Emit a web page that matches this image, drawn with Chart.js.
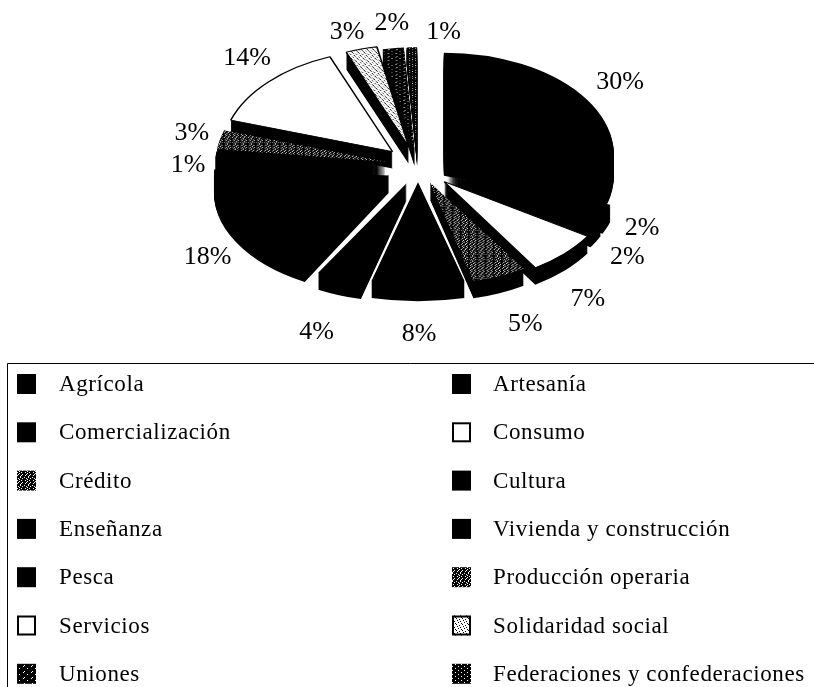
<!DOCTYPE html>
<html><head><meta charset="utf-8">
<style>html,body{margin:0;padding:0;background:#fff}canvas{display:block}</style>
<script src="https://cdn.jsdelivr.net/npm/chart.js@4"></script>
</head><body>
<div style="position:relative;width:814px;height:687px"><canvas id="c" width="814" height="687"></canvas></div>
<script>
const categories = ["Agrícola","Artesanía","Comercialización","Consumo","Crédito","Cultura","Enseñanza","Vivienda y construcción","Pesca","Producción operaria","Servicios","Solidaridad social","Uniones","Federaciones y confederaciones"];
const shares = [30,2,2,7,5,8,4,18,1,3,14,3,2,1];
const fills = ["black","black","black","white","mid","black","black","black","black","mid","white","light","dark","dark2"];

const SQUISH = 0.6, RADIUS = 170;
const explode = [32,33,33,37,30,27,31,33,33,33,35,33,28,28];
const stretch = [1,1,1,1,1.03,1.1,1.08,1.03,1,1,1,1,1,1];
const depths  = [21,17,17,17,17,17,17,17,17,17,17,17,17,17];
const labelNudges = [[8,3],[1,-2],[-1,7],[0,9],[12,-2],[1,-7],[-13,3],[0,7],[9,13],[8,-1],[4,-7],[-4,8],[4,4],[33,14]];

function tile(rows){
  const cv=document.createElement('canvas');cv.width=rows[0].length;cv.height=rows.length;
  const x=cv.getContext('2d');x.fillStyle='#fff';x.fillRect(0,0,cv.width,cv.height);x.fillStyle='#000';
  rows.forEach((r,j)=>[...r].forEach((c,i)=>{if(c==='#')x.fillRect(i,j,1,1);}));
  return x.createPattern(cv,'repeat');
}
const paints={
  black:'#000',white:'#fff',
  mid:tile(["#.###.##","###.####","##.###.#","#.###.##","####.###",".###.###","##.###.#","###.####"]),
  light:tile(["#.....","...#..",".#....","....#.","..#...",".....#"]),
  dark:tile(["#######.","########","###.####","########","########",".#######"]),
  dark2:tile(["#####.","######","##.###","######"])
};
const backgrounds=fills.map(f=>paints[f]);
const outlines=fills.map(f=>(f==='white'||f==='light')?1.6:0);

const pie3d={
  id:'pie3d',
  beforeDatasetDraw(chart,args){
    const ctx=chart.ctx, arcs=args.meta.data;
    const cx=arcs[0].x, cy=arcs[0].y;
    const at=(arc,i,dy,fn)=>{
      const mid=(arc.startAngle+arc.endAngle)/2;
      ctx.save();
      ctx.translate(cx+Math.cos(mid)*explode[i],cy+dy+Math.sin(mid)*explode[i]*SQUISH);
      ctx.scale(stretch[i],SQUISH);
      ctx.translate(-cx,-cy);
      fn();
      ctx.restore();
    };
    arcs.forEach((arc,i)=>{
      const o=arc.options;
      const solid=Object.create(o,{backgroundColor:{value:'#000'},borderWidth:{value:0}});
      for(let d=depths[i];d>0;d--){
        at(arc,i,d,()=>{arc.options=solid;arc.draw(ctx);arc.options=o;});
      }
    });
    arcs.forEach((arc,i)=>at(arc,i,0,()=>arc.draw(ctx)));
    return false;
  },
  afterDraw(chart){
    const ctx=chart.ctx, arcs=chart.getDatasetMeta(0).data;
    ctx.save();
    ctx.fillStyle='#000';
    ctx.textAlign='center';ctx.textBaseline='middle';
    ctx.font='26px "Liberation Serif"';
    arcs.forEach((arc,i)=>{
      const mid=(arc.startAngle+arc.endAngle)/2;
      const s=Math.sin(mid);
      const x=arc.x+Math.cos(mid)*240+labelNudges[i][0];
      const y=arc.y+s*(s<0?148:175)+labelNudges[i][1];
      ctx.fillText(shares[i]+'%',x,y);
    });
    // legend frame
    ctx.strokeStyle='#000';ctx.lineWidth=1;
    ctx.beginPath();ctx.moveTo(7.5,687);ctx.lineTo(7.5,363.5);ctx.lineTo(814,363.5);ctx.stroke();
    // legend entries
    ctx.textAlign='left';ctx.textBaseline='alphabetic';
    ctx.font='23px "Liberation Serif"';
    ctx.letterSpacing='0.6px';
    categories.forEach((name,i)=>{
      const col=i%2, row=(i-col)/2;
      const yc=384+row*48.3;
      const bx=col?452:17;
      ctx.fillStyle=backgrounds[i];
      ctx.fillRect(bx,yc-10,19,20);
      if(outlines[i]>0||fills[i]==='white'){
        ctx.strokeStyle='#000';ctx.lineWidth=2;
        ctx.strokeRect(bx+1,yc-9,17,18);
      }
      ctx.fillStyle='#000';
      ctx.fillText(name,col?493:59,yc+7);
    });
    ctx.restore();
  }
};

new Chart(document.getElementById('c'),{
  type:'pie',
  data:{labels:categories,datasets:[{data:shares,backgroundColor:backgrounds,borderColor:'#000',borderWidth:outlines,clip:false}]},
  options:{
    responsive:false,animation:false,radius:RADIUS,rotation:0,
    layout:{padding:{left:22,top:0,right:0,bottom:355}},
    plugins:{legend:{display:false},tooltip:{enabled:false},title:{display:false}},
    events:[]
  },
  plugins:[pie3d]
});
</script>
</body></html>
